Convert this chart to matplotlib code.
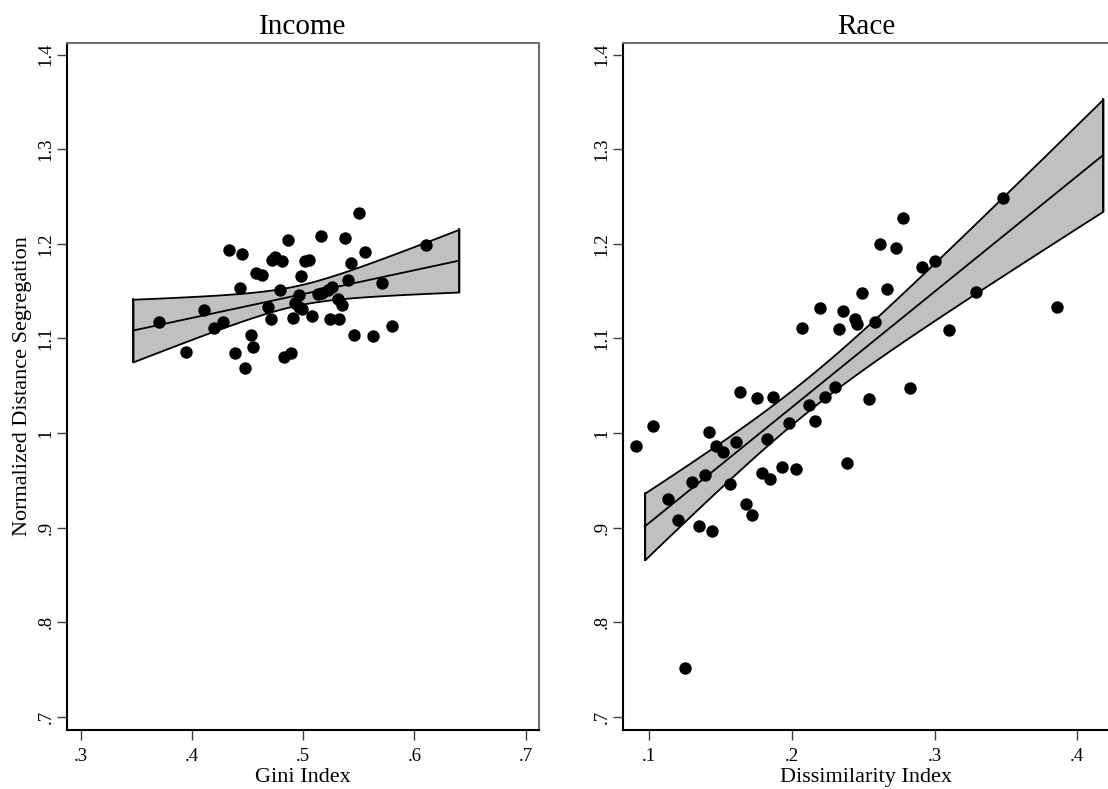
import numpy as np
import matplotlib
matplotlib.use("Agg")
import matplotlib.pyplot as plt

plt.rcParams['font.family'] = ['Liberation Serif', 'DejaVu Serif']

# Income panel: Gini index vs normalized distance segregation
gini = [0.370, 0.395, 0.411, 0.420, 0.428, 0.433, 0.439, 0.443, 0.445, 0.448,
        0.453, 0.455, 0.458, 0.463, 0.468, 0.471, 0.472, 0.475, 0.481, 0.479,
        0.483, 0.489, 0.486, 0.491, 0.496, 0.493, 0.496, 0.499, 0.498, 0.502,
        0.505, 0.508, 0.513, 0.516, 0.517, 0.522, 0.526, 0.524, 0.532, 0.531,
        0.535, 0.538, 0.540, 0.543, 0.546, 0.550, 0.556, 0.563, 0.571, 0.580,
        0.610]
seg_income = [1.117, 1.086, 1.130, 1.111, 1.117, 1.194, 1.085, 1.153, 1.189, 1.069,
              1.104, 1.091, 1.169, 1.167, 1.133, 1.121, 1.183, 1.186, 1.182, 1.151,
              1.080, 1.085, 1.204, 1.122, 1.146, 1.137, 1.133, 1.131, 1.166, 1.182,
              1.183, 1.124, 1.147, 1.208, 1.148, 1.151, 1.154, 1.120, 1.121, 1.142,
              1.135, 1.206, 1.162, 1.180, 1.104, 1.233, 1.191, 1.103, 1.159, 1.113,
              1.199]

# Race panel: dissimilarity index vs normalized distance segregation
dissim = [0.091, 0.103, 0.113, 0.120, 0.130, 0.135, 0.139, 0.142, 0.144, 0.147,
          0.152, 0.157, 0.161, 0.168, 0.172, 0.179, 0.183, 0.185, 0.193, 0.198,
          0.203, 0.212, 0.216, 0.239, 0.125, 0.164, 0.176, 0.187, 0.230, 0.223,
          0.207, 0.220, 0.233, 0.236, 0.244, 0.246, 0.249, 0.258, 0.267, 0.254,
          0.283, 0.262, 0.273, 0.278, 0.291, 0.300, 0.310, 0.329, 0.348, 0.386]
seg_race = [0.986, 1.007, 0.930, 0.908, 0.948, 0.902, 0.956, 1.001, 0.896, 0.986,
            0.980, 0.946, 0.990, 0.925, 0.913, 0.958, 0.994, 0.951, 0.964, 1.011,
            0.962, 1.030, 1.013, 0.968, 0.751, 1.043, 1.037, 1.038, 1.049, 1.038,
            1.111, 1.132, 1.110, 1.129, 1.120, 1.115, 1.148, 1.117, 1.152, 1.036,
            1.048, 1.200, 1.196, 1.227, 1.175, 1.182, 1.109, 1.149, 1.248, 1.133]

income_fit_range = [0.347, 0.640]
race_fit_range = [0.097, 0.418]

y_ticks = [0.7, 0.8, 0.9, 1.0, 1.1, 1.2, 1.3, 1.4]
y_ticklabels = ['.7', '.8', '.9', '1', '1.1', '1.2', '1.3', '1.4']
income_xticks = [0.3, 0.4, 0.5, 0.6, 0.7]
income_xticklabels = ['.3', '.4', '.5', '.6', '.7']
race_xticks = [0.1, 0.2, 0.3, 0.4]
race_xticklabels = ['.1', '.2', '.3', '.4']


def lfitci(ax, x, y, xr):
    # OLS fit with 95% CI of the mean prediction (like Stata lfitci)
    x = np.asarray(x)
    y = np.asarray(y)
    n = len(x)
    b, a = np.polyfit(x, y, 1)
    resid = y - (a + b * x)
    s = np.sqrt(np.sum(resid ** 2) / (n - 2))
    sxx = np.sum((x - x.mean()) ** 2)
    xs = np.linspace(xr[0], xr[1], 200)
    yhat = a + b * xs
    se = s * np.sqrt(1.0 / n + (xs - x.mean()) ** 2 / sxx)
    t = 2.01
    ax.fill_between(xs, yhat - t * se, yhat + t * se, facecolor='#c0c0c0',
                    edgecolor='black', linewidth=1.3, zorder=1)
    ax.plot([xs[0], xs[0]], [yhat[0] - t * se[0], yhat[0] + t * se[0]],
            color='black', lw=1.3, zorder=1)
    ax.plot([xs[-1], xs[-1]], [yhat[-1] - t * se[-1], yhat[-1] + t * se[-1]],
            color='black', lw=1.3, zorder=1)
    ax.plot(xs, yhat, color='black', lw=1.3, zorder=2)


def style(ax, xticks, xlabels, xlim, title, xlabel):
    ax.set_xlim(*xlim)
    ax.set_ylim(0.6859, 1.4127)
    ax.set_xticks(xticks)
    ax.set_xticklabels(xlabels, fontsize=13.5)
    ax.set_yticks(y_ticks)
    ax.set_yticklabels(y_ticklabels, fontsize=13.5, rotation=90, va='center')
    ax.tick_params(direction='out', length=7, width=1.0, color='#404040')
    ax.tick_params(axis='x', pad=6)
    ax.tick_params(axis='y', pad=2)
    ax.set_title(title, fontsize=21, pad=6)
    ax.set_xlabel(xlabel, fontsize=16, labelpad=2)
    for side in ['left', 'bottom']:
        ax.spines[side].set_color('black')
        ax.spines[side].set_linewidth(1.5)
    for side in ['top', 'right']:
        ax.spines[side].set_color('#707070')
        ax.spines[side].set_linewidth(1.5)


fig = plt.figure(figsize=(11.08, 7.89), dpi=100)
ax1 = fig.add_axes([67 / 1108, 59 / 789, 472 / 1108, 687.3 / 789])
ax2 = fig.add_axes([623 / 1108, 59 / 789, 487 / 1108, 687.3 / 789])

lfitci(ax1, gini, seg_income, income_fit_range)
ax1.scatter(gini, seg_income, s=80, color='black', zorder=3, linewidths=0)
style(ax1, income_xticks, income_xticklabels, (0.2877, 0.712), 'Income', 'Gini Index')
ax1.set_ylabel('Normalized Distance Segregation', fontsize=16, labelpad=4)

lfitci(ax2, dissim, seg_race, race_fit_range)
ax2.scatter(dissim, seg_race, s=80, color='black', zorder=3, linewidths=0)
style(ax2, race_xticks, race_xticklabels, (0.0818, 0.4229), 'Race', 'Dissimilarity Index')

fig.savefig('out.png', dpi=100)
